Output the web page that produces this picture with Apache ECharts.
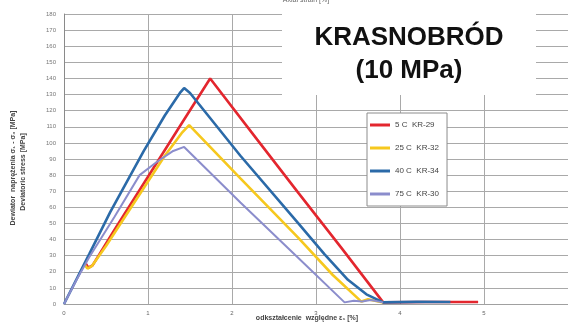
<!DOCTYPE html>
<html>
<head>
<meta charset="utf-8">
<script src="https://cdn.jsdelivr.net/npm/echarts@6/dist/echarts.min.js"></script>
<style>
  html, body { margin: 0; padding: 0; background: #fff; }
  #chart { width: 568px; height: 325px; }
</style>
</head>
<body>
<div id="chart"></div>
<script>
// Stress–strain curves, Krasnobród sandstone, confining pressure 10 MPa
// Each point: [axial strain ε1 (%), deviatoric stress (MPa)]
const kr29 = [ // 5 C
  [0.26, 25], [0.29, 22.5], [0.34, 24], [0.6, 46], [1.0, 79], [1.4, 112],
  [1.74, 140], [2.3, 102], [2.79, 69], [3.3, 35], [3.8, 1], [4.3, 1.2], [4.93, 1.2]
];
const kr32 = [ // 25 C
  [0.25, 24], [0.28, 22], [0.33, 23.5], [0.5, 36], [0.8, 60], [1.0, 76],
  [1.2, 92], [1.4, 106], [1.49, 111], [2.1, 78], [2.79, 41], [3.2, 18],
  [3.54, 1.5], [3.62, 3], [3.7, 2], [3.8, 1]
];
const kr34 = [ // 40 C
  [0, 0], [0.3, 31], [0.55, 57], [0.95, 95], [1.2, 117], [1.38, 131],
  [1.43, 134], [1.5, 131], [2.1, 92], [2.79, 50], [3.1, 31], [3.38, 15],
  [3.6, 6], [3.8, 1], [4.2, 1.3], [4.6, 1.2]
];
const kr30 = [ // 75 C
  [0, 0], [0.15, 15], [0.3, 29], [0.6, 54], [0.9, 80], [1.1, 88],
  [1.3, 95], [1.43, 97.5], [2.1, 63], [2.79, 28.5], [3.34, 1],
  [3.45, 2], [3.55, 1.5], [3.65, 2.5], [3.8, 1]
];

const seriesNames = ['5 C  KR-29', '25 C  KR-32', '40 C  KR-34', '75 C  KR-30'];
const seriesData = [kr29, kr32, kr34, kr30];
const seriesColors = ['#e3262e', '#f6c81e', '#2b6aa8', '#8b8dcc'];
const seriesWidths = [2.6, 2.6, 2.6, 2];

const chart = echarts.init(document.getElementById('chart'));

const gridLine = { show: true, lineStyle: { color: '#a9a9a9', width: 1 } };

chart.setOption({
  animation: false,
  backgroundColor: '#fff',
  grid: { left: 64, top: 14, width: 508, height: 290 },
  xAxis: {
    type: 'value', min: 0, max: 6, interval: 1,
    axisLine: { show: true, lineStyle: { color: '#a0a0a0' } },
    axisTick: { show: false },
    splitLine: gridLine,
    axisLabel: { fontSize: 6, color: '#666', margin: 6, showMaxLabel: false,
      fontFamily: 'Liberation Sans' }
  },
  yAxis: {
    type: 'value', min: 0, max: 180, interval: 10,
    axisLine: { show: true, lineStyle: { color: '#8a8a8a' } },
    axisTick: { show: false },
    splitLine: gridLine,
    axisLabel: { fontSize: 6, color: '#777', margin: 8, fontFamily: 'Liberation Sans' }
  },
  legend: {
    orient: 'vertical', left: 367, top: 113,
    padding: [8, 8, 8, 3], itemGap: 15,
    itemWidth: 20, itemHeight: 3, icon: 'rect',
    backgroundColor: '#fff', borderColor: '#8c8c8c', borderWidth: 1,
    textStyle: { fontSize: 8, color: '#444', fontFamily: 'Liberation Sans' },
    data: seriesNames
  },
  series: seriesNames.map((name, i) => ({
    name, type: 'line', data: seriesData[i], showSymbol: false, symbol: 'none',
    smooth: false, color: seriesColors[i],
    lineStyle: { width: seriesWidths[i], color: seriesColors[i] }
  })),
  graphic: [
    { type: 'rect', z: 100, shape: { x: 282, y: 10, width: 254, height: 85 },
      style: { fill: '#fff' } },
    { type: 'text', z: 101, x: 409, y: 38,
      style: { text: 'KRASNOBRÓD', font: 'bold 26px "Liberation Sans"', fill: '#111',
        align: 'center', verticalAlign: 'middle' } },
    { type: 'text', z: 101, x: 409, y: 71,
      style: { text: '(10 MPa)', font: 'bold 26px "Liberation Sans"', fill: '#111',
        align: 'center', verticalAlign: 'middle' } },
    { type: 'text', z: 101, x: 306, y: 0,
      style: { text: 'Axial strain [%]', font: '7px "Liberation Sans"', fill: '#666',
        align: 'center', verticalAlign: 'bottom' }, y: 4 },
    { type: 'text', x: 307, y: 318,
      style: { text: 'odkształcenie  względne ε₁ [%]', font: 'bold 7px "Liberation Sans"',
        fill: '#444', align: 'center', verticalAlign: 'middle' } },
    { type: 'text', x: 13, y: 168, rotation: Math.PI / 2,
      style: { text: 'Dewiator  naprężenia σ₁ - σ₃ [MPa]', font: 'bold 7px "Liberation Sans"',
        fill: '#444', align: 'center', verticalAlign: 'middle' } },
    { type: 'text', x: 23, y: 172, rotation: Math.PI / 2,
      style: { text: 'Deviatoric stress [MPa]', font: 'bold 7px "Liberation Sans"',
        fill: '#444', align: 'center', verticalAlign: 'middle' } }
  ]
});
</script>
</body>
</html>
